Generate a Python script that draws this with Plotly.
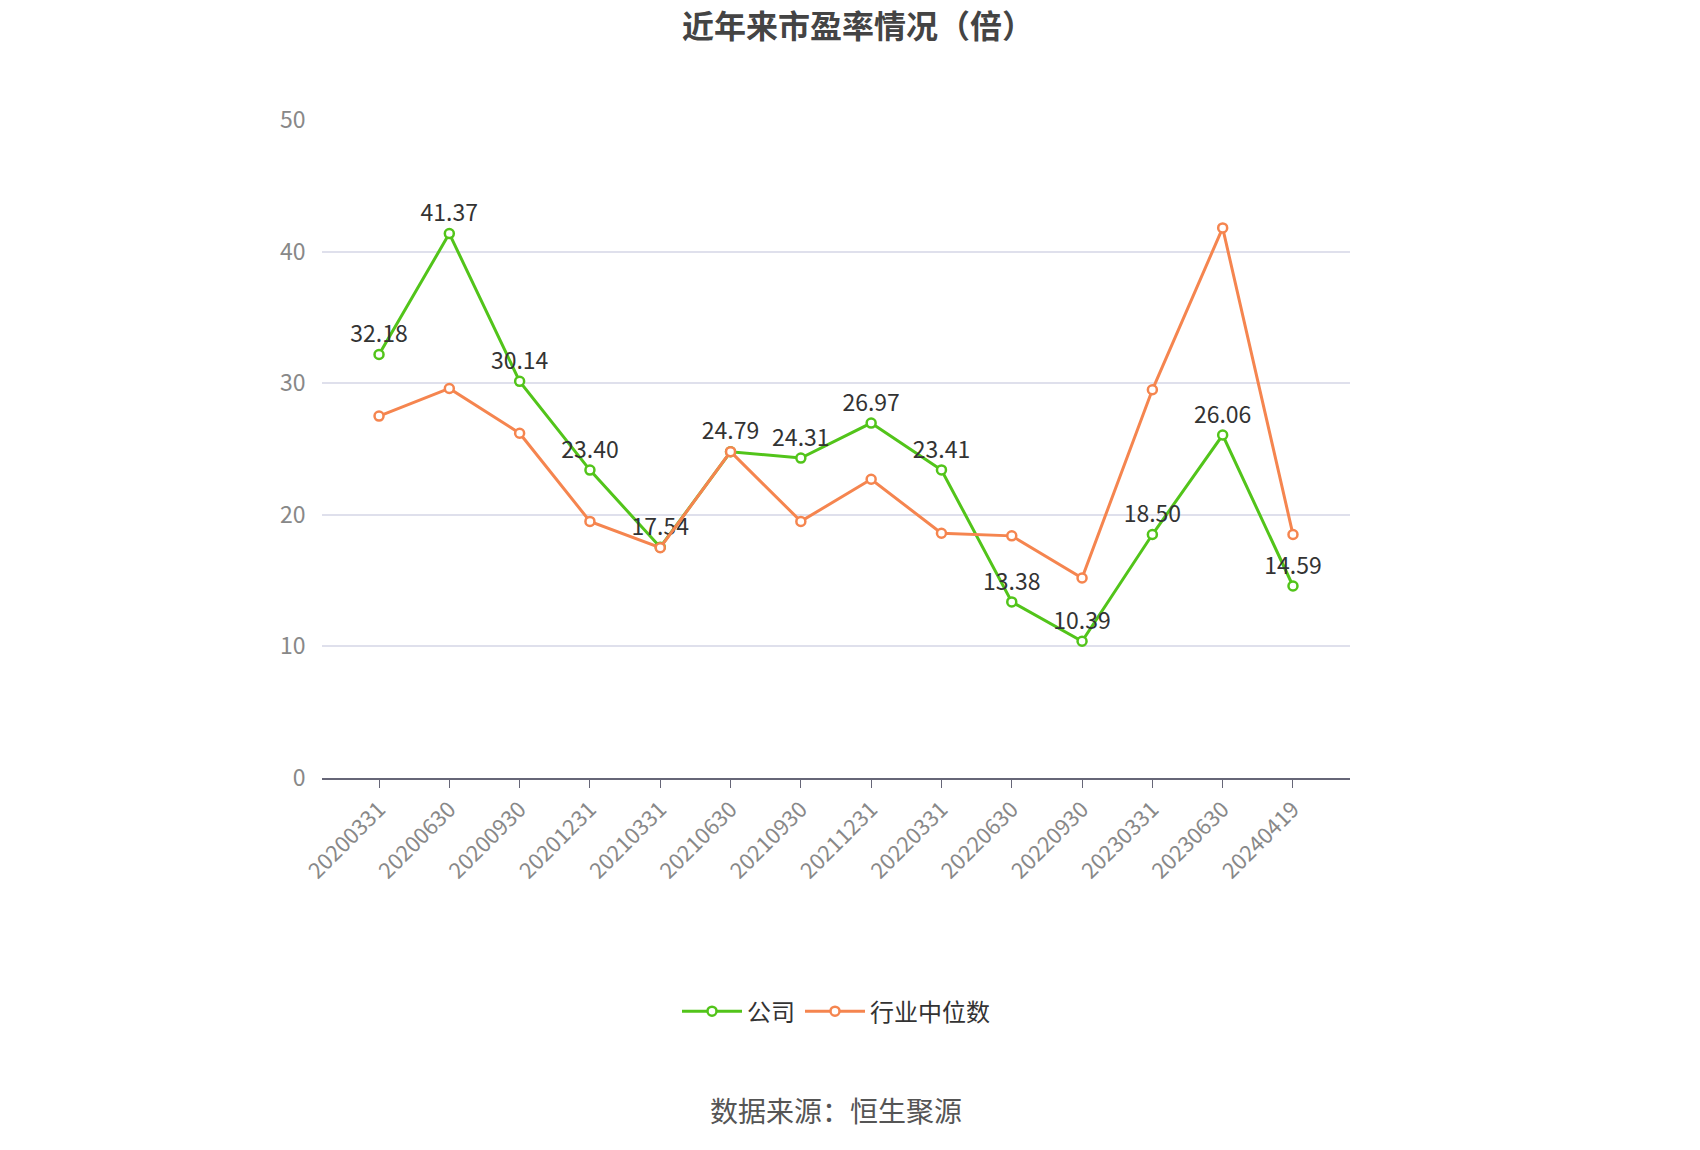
import plotly.graph_objects as go

dates = ["20200331", "20200630", "20200930", "20201231", "20210331", "20210630", "20210930",
         "20211231", "20220331", "20220630", "20220930", "20230331", "20230630", "20240419"]
company = [32.18, 41.37, 30.14, 23.40, 17.54, 24.79, 24.31, 26.97, 23.41, 13.38, 10.39, 18.50, 26.06, 14.59]
industry = [27.5, 29.6, 26.2, 19.5, 17.5, 24.8, 19.5, 22.7, 18.6, 18.4, 15.2, 29.5, 41.8, 18.5]

font = "Noto Sans CJK SC"
fig = go.Figure()
fig.add_trace(go.Scatter(
    x=dates, y=company, name="公司", mode="lines+markers+text",
    line=dict(color="#52c41a", width=3),
    marker=dict(symbol="circle", size=9, color="white", line=dict(color="#52c41a", width=2.5)),
    text=[f"{v:.2f}" for v in company], textposition="top center",
    textfont=dict(size=23, color="#333333", family=font),
))
fig.add_trace(go.Scatter(
    x=dates, y=industry, name="行业中位数", mode="lines+markers",
    line=dict(color="#f5854f", width=3),
    marker=dict(symbol="circle", size=9, color="white", line=dict(color="#f5854f", width=2.5)),
))
fig.update_layout(
    width=1700, height=1150, plot_bgcolor="white", paper_bgcolor="white",
    font=dict(family=font),
    title=dict(text="<b>近年来市盈率情况（倍）</b>", x=0.5, xanchor="center", y=0.993, yanchor="top",
               font=dict(size=32, color="#444444", family=font)),
    margin=dict(l=314, r=358, t=112, b=380),
    showlegend=True,
    legend=dict(orientation="h", x=0.5, xanchor="center", y=-0.355, yanchor="middle",
                font=dict(size=24, color="#333333", family=font), itemwidth=60),
    xaxis=dict(type="category", showgrid=False, showline=True, linecolor="#666677", linewidth=1.5,
               ticks="outside", ticklen=8, tickcolor="#666677", tickangle=-45,
               tickfont=dict(size=22, color="#888888", family=font)),
    yaxis=dict(range=[0, 50], dtick=10, gridcolor="#dfe0ec", gridwidth=1.5, zeroline=False,
               tickfont=dict(size=23, color="#888888", family=font), ticksuffix="   "),
    annotations=[dict(text="数据来源：恒生聚源", x=0.5, xref="paper", y=-(1124 - 770) / 658,
                      yref="paper", showarrow=False,
                      font=dict(size=28, color="#555555", family=font))],
)
fig.write_html("out.html")
